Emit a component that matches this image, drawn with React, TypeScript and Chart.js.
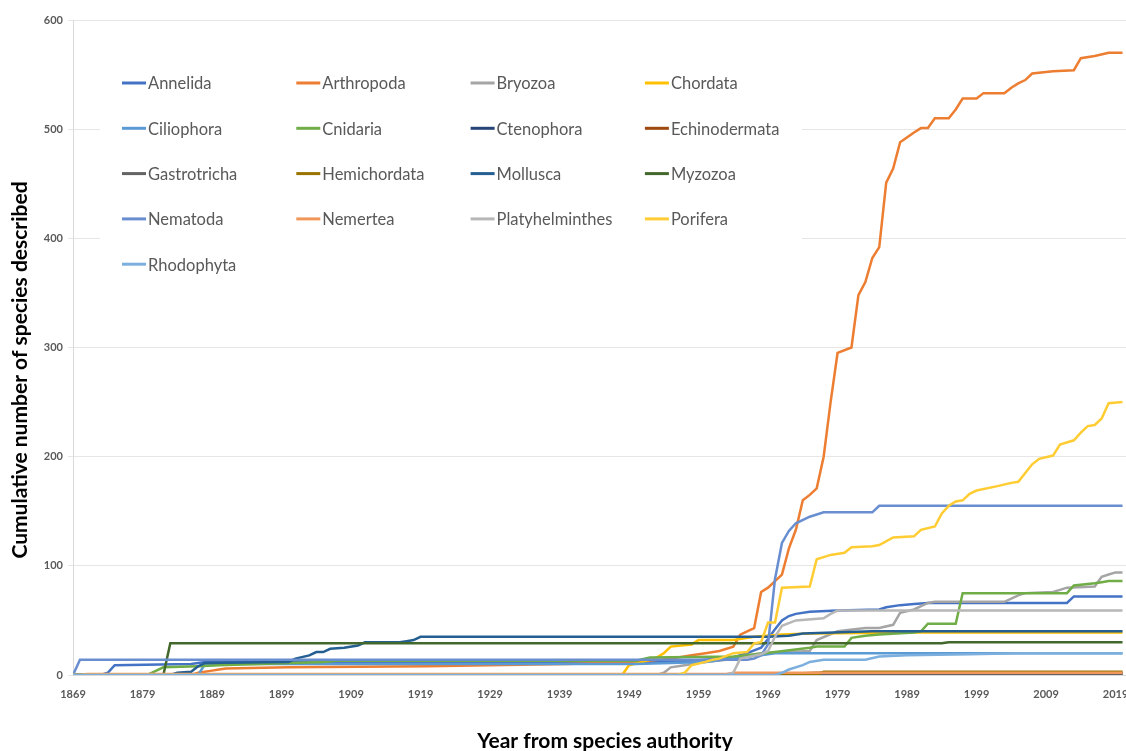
import React, { useEffect, useRef } from "react";
import { Chart, registerables } from "chart.js";
Chart.register(...registerables);

type P = [number, number][];

// [year, cumulative number of species]
const annelida: P = [[1869,0],[1873,0],[1874,2],[1875,9],[1886,10],[1888,12],[1955,12],[1960,14],[1964,16],[1966,20],[1968,25],[1969,33],[1970,42],[1971,50],[1972,54],[1973,56],[1975,58],[1979,59],[1985,60],[1986,62],[1988,64],[1990,65],[1992,66],[2012,66],[2013,72],[2020,72]];
const arthropoda: P = [[1869,0],[1886,0],[1887,2],[1889,4],[1890,5],[1891,6],[1900,7],[1920,8],[1940,10],[1950,12],[1955,15],[1958,18],[1960,20],[1962,22],[1964,26],[1965,37],[1966,40],[1967,43],[1968,76],[1969,80],[1970,86],[1971,92],[1972,116],[1973,133],[1974,160],[1975,165],[1976,171],[1977,200],[1978,250],[1979,295],[1981,300],[1982,348],[1983,360],[1984,382],[1985,392],[1986,451],[1987,464],[1988,488],[1990,497],[1991,501],[1992,501],[1993,510],[1995,510],[1996,518],[1997,528],[1999,528],[2000,533],[2003,533],[2004,538],[2005,542],[2006,545],[2007,551],[2010,553],[2013,554],[2014,565],[2016,567],[2018,570],[2020,570]];
const bryozoa: P = [[1869,0],[1953,0],[1954,2],[1955,7],[1957,9],[1960,12],[1963,14],[1965,17],[1968,20],[1975,22],[1976,32],[1979,40],[1983,43],[1985,43],[1987,46],[1988,57],[1990,60],[1992,66],[1993,67],[2003,67],[2005,73],[2006,75],[2010,76],[2011,78],[2012,80],[2016,81],[2017,90],[2018,92],[2019,94],[2020,94]];
const chordata: P = [[1869,0],[1948,0],[1949,9],[1951,12],[1953,16],[1954,20],[1955,26],[1958,28],[1959,32],[1964,32],[1967,35],[1971,37],[1975,38],[1990,39],[2020,39]];
const ciliophora: P = [[1869,0],[1887,0],[1888,10],[1950,10],[1955,11],[1960,12],[1965,16],[1968,18],[1970,20],[2020,20]];
const cnidaria: P = [[1869,0],[1879,0],[1880,1],[1881,4],[1882,7],[1887,8],[1890,9],[1905,12],[1907,13],[1950,13],[1952,16],[1964,17],[1966,18],[1970,21],[1975,25],[1976,26],[1980,26],[1981,34],[1983,36],[1985,37],[1990,39],[1991,40],[1992,47],[1996,47],[1997,75],[2012,75],[2013,82],[2016,84],[2017,85],[2018,86],[2020,86]];
const ctenophora: P = [[1869,0],[1969,0],[1970,1],[2020,1]];
const echinodermata: P = [[1869,0],[1970,0],[1971,1],[1976,2],[2020,2]];
const gastrotricha: P = [[1869,0],[1975,0],[1976,1],[2020,1]];
const hemichordata: P = [[1869,0],[1976,0],[1977,3],[2020,3]];
const mollusca: P = [[1869,0],[1883,0],[1884,2],[1886,3],[1887,8],[1888,11],[1900,12],[1901,15],[1903,18],[1904,21],[1905,21],[1906,24],[1908,25],[1910,27],[1911,30],[1916,30],[1917,31],[1918,32],[1919,35],[1969,35],[1972,36],[1974,38],[1984,40],[2020,40]];
const myzozoa: P = [[1869,0],[1882,0],[1883,29],[1994,29],[1995,30],[2020,30]];
const nematoda: P = [[1869,0],[1870,14],[1966,14],[1967,15],[1968,18],[1969,28],[1970,88],[1971,121],[1972,132],[1973,139],[1975,145],[1977,149],[1984,149],[1985,155],[2020,155]];
const nemertea: P = [[1869,0],[1870,0],[1871,1],[1963,1],[1964,2],[2020,2]];
const platyhelminthes: P = [[1869,0],[1963,0],[1964,2],[1965,15],[1968,19],[1969,22],[1970,35],[1971,45],[1973,50],[1977,52],[1978,56],[1979,59],[2020,59]];
const porifera: P = [[1869,0],[1956,0],[1957,2],[1958,9],[1960,12],[1961,14],[1962,15],[1964,20],[1966,21],[1967,29],[1968,30],[1969,48],[1970,48],[1971,80],[1975,81],[1976,106],[1978,110],[1980,112],[1981,117],[1984,118],[1985,119],[1987,126],[1990,127],[1991,133],[1993,136],[1994,148],[1995,155],[1996,159],[1997,160],[1998,166],[1999,169],[2002,173],[2004,176],[2005,177],[2007,193],[2008,198],[2010,201],[2011,211],[2013,215],[2014,222],[2015,228],[2016,229],[2017,235],[2018,249],[2020,250]];
const rhodophyta: P = [[1869,0],[1970,0],[1971,2],[1972,5],[1974,9],[1975,12],[1977,14],[1983,14],[1985,17],[1989,18],[1998,19],[2005,20],[2020,20]];

const phyla = ["Annelida","Arthropoda","Bryozoa","Chordata","Ciliophora","Cnidaria","Ctenophora","Echinodermata","Gastrotricha","Hemichordata","Mollusca","Myzozoa","Nematoda","Nemertea","Platyhelminthes","Porifera","Rhodophyta"];
const colors = ["#4472C4","#ED7D31","#A5A5A5","#FFC000","#5B9BD5","#70AD47","#264478","#9E480E","#636363","#997300","#255E91","#43682B","#698ED0","#F1975A","#B7B7B7","#FFCD33","#7CAFDD"];
const xTickYears = [1869,1879,1889,1899,1909,1919,1929,1939,1949,1959,1969,1979,1989,1999,2009,2019];
const yTicks = [0,100,200,300,400,500,600];
const yTitle = "Cumulative number of species described";
const xTitle = "Year from species authority";

export default function App() {
  const ref = useRef<HTMLCanvasElement>(null);
  useEffect(() => {
    const series = [annelida,arthropoda,bryozoa,chordata,ciliophora,cnidaria,ctenophora,echinodermata,gastrotricha,hemichordata,mollusca,myzozoa,nematoda,nemertea,platyhelminthes,porifera,rhodophyta];
    const overlay = {
      id: "overlay",
      beforeDatasetsDraw(chart: any) {
        const c = chart.ctx;
        c.save();
        c.fillStyle = "#ffffff";
        c.fillRect(100, 40, 702, 250);
        c.restore();
      },
      afterDraw(chart: any) {
        const c = chart.ctx;
        c.save();
        // legend
        c.font = "16.5px Lato";
        c.textBaseline = "middle";
        c.textAlign = "left";
        phyla.forEach((name, i) => {
          const col = i % 4, row = Math.floor(i / 4);
          const x = 122 + col * 174.3;
          const y = 83 + row * 45.3;
          c.strokeStyle = colors[i];
          c.lineWidth = 3;
          c.beginPath();
          c.moveTo(x, y);
          c.lineTo(x + 24, y);
          c.stroke();
          c.fillStyle = "#595959";
          c.fillText(name, x + 26, y + 1);
        });
        // axis titles
        c.fillStyle = "#000000";
        c.font = "bold 21px Lato";
        c.textAlign = "center";
        c.fillText(xTitle, 605, 741);
        c.translate(20, 370);
        c.rotate(-Math.PI / 2);
        c.fillText(yTitle, 0, 0);
        c.restore();
      },
    };
    const chart = new Chart(ref.current!, {
      type: "line",
      data: {
        datasets: series.map((s, i) => ({
          label: phyla[i],
          data: s.map(([x, y]) => ({ x, y })),
          borderColor: colors[i],
          backgroundColor: colors[i],
          borderWidth: 2.5,
          pointRadius: 0,
          tension: 0,
          fill: false,
          order: -i,
        })),
      },
      options: {
        animation: false,
        responsive: false,
        layout: { padding: { left: 0, right: 0, top: 20, bottom: 0 } },
        plugins: { legend: { display: false }, tooltip: { enabled: false } },
        scales: {
          x: {
            type: "linear",
            min: 1869,
            max: 2020.5,
            afterBuildTicks: (s: any) => { s.ticks = xTickYears.map((v) => ({ value: v })); },
            afterFit: (s: any) => { s.height = 76; s.paddingLeft = 0; s.paddingRight = 0; },
            grid: { display: false, drawTicks: false },
            border: { display: true, color: "#D9D9D9" },
            ticks: { padding: 13, color: "#595959", font: { family: "Lato", size: 11, weight: "bold" }, maxRotation: 0, autoSkip: false, callback: (v: any) => String(v) },
          },
          y: {
            min: 0,
            max: 600,
            afterBuildTicks: (s: any) => { s.ticks = yTicks.map((v) => ({ value: v })); },
            afterFit: (s: any) => { s.width = 73; },
            grid: { color: "#E6E6E6", tickLength: 5 },
            border: { display: true, color: "#D9D9D9" },
            ticks: { padding: 5, color: "#595959", font: { family: "Lato", size: 11, weight: "bold" }, callback: (v: any) => String(v) },
          },
        },
      } as any,
      plugins: [overlay],
    });
    return () => chart.destroy();
  }, []);
  return (
    <div style={{ position: "fixed", left: 0, top: 0, width: 1126, height: 751, background: "#fff" }}>
      <canvas ref={ref} width={1126} height={751} style={{ display: "block" }} />
    </div>
  );
}
